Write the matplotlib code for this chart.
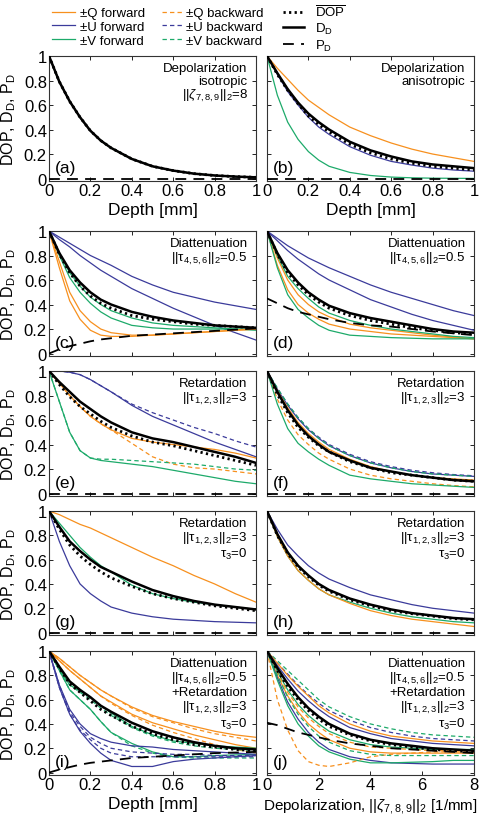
import numpy as np
import matplotlib
matplotlib.use("Agg")
import matplotlib.pyplot as plt
from matplotlib.lines import Line2D

plt.rcParams['font.family'] = ['Liberation Sans', 'DejaVu Sans']
plt.rcParams['mathtext.fontset'] = 'custom'
plt.rcParams['mathtext.rm'] = 'Liberation Sans'
plt.rcParams['mathtext.it'] = 'Liberation Sans:italic'
plt.rcParams['mathtext.bf'] = 'Liberation Sans:bold'

# ---------------- data ----------------
X = [0, 0.05, 0.1, 0.15, 0.2, 0.25, 0.3, 0.4, 0.5, 0.6, 0.7, 0.8, 0.9, 1.0]
XJ = [0, 0.4, 0.8, 1.2, 1.6, 2.0, 2.4, 3.2, 4.0, 4.8, 5.6, 6.4, 7.2, 8.0]
ZERO = [0] * 14

# (a) isotropic depolarization
A_DD = [1, .79, .63, .50, .39, .31, .25, .16, .10, .065, .04, .025, .016, .01]
A_DOP = [1, .79, .63, .50, .39, .31, .25, .16, .10, .065, .04, .025, .016, .01]

# (b) anisotropic depolarization
B_Q = [1, .9, .81, .72, .64, .58, .52, .42, .35, .29, .24, .2, .17, .14]
B_U = [1, .85, .71, .6, .5, .42, .36, .26, .19, .14, .11, .085, .07, .06]
B_V = [1, .68, .46, .32, .22, .15, .10, .05, .025, .012, .006, .003, .002, .001]
B_DD = [1, .86, .73, .62, .53, .46, .40, .30, .23, .18, .14, .115, .1, .085]
B_DOP = [1, .85, .72, .61, .51, .44, .38, .28, .21, .16, .125, .1, .085, .07]

# (c) diattenuation
C_Q1 = [1, .75, .5, .35, .26, .2, .17, .15, .15, .16, .17, .18, .19, .2]
C_Q2 = [1, .7, .43, .28, .19, .15, .14, .14, .15, .16, .17, .18, .19, .2]
C_U1 = [1, .95, .9, .85, .8, .76, .72, .63, .56, .5, .46, .42, .39, .36]
C_U2 = [1, .93, .87, .8, .74, .68, .63, .53, .45, .37, .3, .23, .17, .11]
C_V1 = [1, .82, .66, .55, .46, .4, .35, .29, .25, .23, .22, .21, .2, .2]
C_V2 = [1, .8, .62, .5, .41, .34, .29, .23, .21, .2, .2, .2, .2, .19]
C_DD = [1, .82, .68, .58, .5, .44, .4, .34, .3, .27, .25, .23, .22, .21]
C_DOP = [1, .81, .66, .55, .47, .41, .37, .31, .28, .26, .24, .23, .22, .21]
C_PD = [0, .035, .06, .08, .1, .115, .125, .145, .155, .165, .175, .185, .195, .205]

# (d) diattenuation, anisotropic
D_U1 = [1, .94, .88, .83, .78, .74, .7, .63, .56, .5, .45, .4, .35, .31]
D_U2 = [1, .92, .84, .77, .71, .65, .6, .52, .44, .38, .32, .27, .23, .19]
D_Q1 = [1, .78, .6, .48, .4, .34, .3, .24, .21, .19, .17, .15, .135, .12]
D_Q2 = [1, .72, .52, .4, .33, .28, .24, .2, .18, .16, .15, .14, .13, .12]
D_V1 = [1, .8, .63, .53, .45, .38, .33, .27, .23, .2, .18, .16, .14, .13]
D_V2 = [1, .7, .48, .36, .29, .23, .19, .15, .14, .13, .125, .12, .12, .12]
D_DD = [1, .82, .68, .58, .5, .44, .39, .33, .29, .26, .23, .2, .18, .17]
D_DOP = [1, .81, .66, .56, .48, .42, .37, .31, .27, .24, .21, .19, .17, .16]
D_PD = [.45, .41, .37, .34, .32, .3, .28, .25, .23, .22, .2, .18, .165, .15]

# (e) retardation
E_Qf = [1, .9, .8, .71, .63, .57, .52, .45, .42, .40, .38, .36, .33, .29]
E_Qb = [1, .9, .8, .71, .63, .57, .52, .41, .30, .24, .21, .2, .18, .16]
E_Uf = [1, 1, .99, .97, .93, .88, .83, .72, .63, .56, .49, .42, .36, .30]
E_Ub = [1, 1, .99, .97, .93, .88, .83, .73, .66, .6, .54, .49, .43, .38]
E_Vf = [1, .75, .5, .35, .29, .27, .26, .24, .22, .19, .16, .13, .1, .08]
E_Vb = [1, .75, .5, .35, .29, .28, .28, .27, .26, .25, .24, .22, .2, .19]
E_DD = [1, .91, .83, .75, .69, .63, .58, .5, .45, .42, .38, .34, .3, .25]
E_DOP = [1, .89, .79, .71, .65, .59, .54, .47, .42, .39, .35, .31, .27, .23]

# (f) retardation, anisotropic
F_Uf = [1, .85, .72, .61, .52, .45, .39, .31, .25, .21, .18, .16, .15, .14]
F_Ub = [1, .86, .73, .62, .53, .46, .4, .32, .26, .22, .19, .17, .155, .145]
F_Vb = [1, .86, .73, .62, .53, .45, .39, .31, .25, .21, .18, .16, .15, .14]
F_Qf = [1, .84, .7, .58, .49, .42, .36, .28, .22, .18, .15, .13, .12, .11]
F_Qb = [1, .77, .6, .48, .4, .33, .28, .2, .15, .12, .1, .08, .065, .055]
F_Vf = [1, .73, .53, .41, .34, .28, .23, .15, .12, .1, .08, .07, .06, .05]
F_DD = [1, .83, .68, .56, .47, .4, .34, .27, .21, .18, .15, .13, .11, .10]
F_DOP = [1, .81, .66, .54, .46, .39, .34, .26, .21, .17, .15, .13, .11, .10]

# (g) retardation, tau3 = 0
G_Q = [1, .97, .93, .89, .86, .82, .78, .7, .62, .55, .47, .4, .32, .25]
G_U = [1, .75, .55, .4, .32, .26, .21, .16, .13, .11, .1, .09, .085, .08]
G_V = [1, .9, .8, .7, .62, .55, .5, .39, .32, .28, .25, .23, .21, .19]
G_DD = [1, .87, .75, .67, .6, .54, .5, .42, .35, .3, .26, .23, .21, .19]
G_DOP = [1, .85, .72, .63, .56, .5, .45, .38, .32, .28, .25, .22, .2, .18]

# (h) retardation, tau3 = 0, anisotropic
H_U = [1, .85, .72, .63, .55, .49, .44, .37, .31, .27, .23, .2, .18, .16]
H_V = [1, .79, .63, .51, .43, .36, .31, .25, .2, .16, .13, .11, .09, .08]
H_Q = [1, .79, .63, .51, .43, .36, .31, .24, .18, .14, .11, .09, .07, .05]
H_DD = [1, .81, .66, .55, .47, .4, .35, .28, .23, .19, .16, .14, .12, .11]
H_DOP = [1, .8, .65, .54, .46, .39, .34, .27, .22, .18, .155, .135, .115, .105]

# (i) diattenuation + retardation
I_Q1f = [1, .94, .87, .8, .74, .68, .63, .54, .47, .42, .38, .34, .31, .29]
I_Q1b = [1, .94, .87, .8, .74, .68, .63, .53, .46, .41, .36, .32, .29, .26]
I_Q2f = [1, .92, .84, .77, .7, .63, .58, .48, .41, .36, .31, .27, .23, .2]
I_Q2b = [1, .92, .84, .77, .7, .63, .57, .47, .39, .33, .28, .23, .19, .16]
I_V1f = [1, .85, .72, .67, .62, .55, .49, .38, .31, .26, .24, .22, .21, .2]
I_V1b = [1, .85, .72, .66, .6, .53, .47, .37, .3, .25, .22, .2, .19, .18]
I_V2f = [1, .84, .68, .6, .52, .42, .33, .24, .17, .13, .13, .14, .145, .15]
I_V2b = [1, .84, .68, .6, .52, .42, .33, .22, .16, .13, .12, .12, .12, .12]
I_U1f = [1, .72, .52, .4, .32, .28, .25, .22, .21, .19, .18, .17, .16, .15]
I_U1b = [1, .72, .5, .38, .29, .24, .2, .17, .16, .15, .15, .14, .14, .14]
I_U2f = [1, .7, .48, .34, .24, .16, .1, .05, .05, .09, .11, .12, .13, .14]
I_U2b = [1, .7, .48, .35, .27, .2, .16, .13, .13, .13, .13, .13, .13, .13]
I_DD = [1, .87, .75, .68, .62, .55, .5, .41, .34, .29, .25, .22, .2, .19]
I_DOP = [1, .86, .73, .66, .59, .52, .47, .38, .32, .27, .23, .21, .19, .18]
I_PD = [0, .025, .045, .065, .08, .09, .1, .12, .13, .14, .15, .16, .165, .17]

# (j) diattenuation + retardation vs depolarization
J_Vb1 = [1, .92, .84, .76, .68, .6, .54, .46, .4, .36, .33, .31, .3, .29]
J_Ub1 = [1, .9, .81, .72, .64, .57, .51, .43, .37, .33, .3, .28, .27, .26]
J_Qf1 = [1, .9, .8, .71, .63, .55, .49, .4, .34, .3, .28, .26, .25, .24]
J_Uf1 = [1, .88, .77, .67, .59, .52, .46, .37, .32, .28, .26, .24, .23, .22]
J_Vf2 = [1, .83, .68, .56, .47, .4, .34, .27, .23, .21, .2, .19, .19, .19]
J_Qb2 = [1, .82, .66, .54, .45, .38, .32, .25, .21, .2, .19, .18, .18, .18]
J_Qf2 = [1, .8, .63, .5, .4, .33, .27, .2, .17, .16, .16, .16, .16, .16]
J_Uf2 = [1, .78, .58, .44, .33, .25, .19, .13, .1, .08, .075, .07, .07, .07]
J_Vf3 = [1, .76, .55, .4, .3, .22, .17, .11, .08, .08, .085, .09, .1, .1]
J_Qb3 = [1, .6, .35, .18, .09, .06, .05, .08, .13, .15, .16, .17, .17, .17]
J_Vb3 = [1, .8, .62, .48, .38, .3, .25, .18, .15, .14, .14, .14, .14, .14]
J_DD = [1, .86, .73, .62, .53, .46, .4, .32, .27, .24, .22, .2, .19, .18]
J_DOP = [1, .84, .71, .6, .51, .44, .38, .31, .26, .23, .21, .19, .18, .17]
J_PD = [.41, .39, .36, .33, .31, .29, .27, .24, .22, .2, .19, .18, .17, .16]

TICKS01 = [0, 0.2, 0.4, 0.6, 0.8, 1]
TICKLABELS01 = ['0', '0.2', '0.4', '0.6', '0.8', '1']
TICKSJ = [0, 2, 4, 6, 8]
TICKLABELSJ = ['0', '2', '4', '6', '8']
PANEL_LABELS = ['(a)', '(b)', '(c)', '(d)', '(e)', '(f)', '(g)', '(h)', '(i)', '(j)']
T456 = '$||\\mathrm{\\tau}_{4,5,6}||_2$=0.5'
T123 = '$||\\mathrm{\\tau}_{1,2,3}||_2$=3'
T3 = '$\\mathrm{\\tau}_3$=0'
ANNOT = [
    'Depolarization\nisotropic\n$||\\zeta_{7,8,9}||_2$=8',
    'Depolarization\nanisotropic',
    'Diattenuation\n' + T456,
    'Diattenuation\n' + T456,
    'Retardation\n' + T123,
    'Retardation\n' + T123,
    'Retardation\n' + T123 + '\n' + T3,
    'Retardation\n' + T123 + '\n' + T3,
    'Diattenuation\n' + T456 + '\n+Retardation\n' + T123 + '\n' + T3,
    'Diattenuation\n' + T456 + '\n+Retardation\n' + T123 + '\n' + T3,
]

# ---------------- style ----------------
ORANGE = '#F7901E'
BLUE = '#3B3B9B'
GREEN = '#1DAA6A'
CLW = 0.9
DASH = (0, (3.5, 2.5))
W, H = 481, 820
fig = plt.figure(figsize=(W / 100, H / 100), dpi=100)

cols_x = [(49, 207), (267, 207)]
rows_y = [(57, 125), (232, 125), (372, 125), (512, 124), (652, 124)]


def make_ax(r, c):
    x0, w = cols_x[c]
    y0, h = rows_y[r]
    return fig.add_axes([x0 / W, 1 - (y0 + h) / H, w / W, h / H])


def fwd(ax, x, y, col):
    ax.plot(x, y, color=col, lw=CLW, zorder=2)


def bwd(ax, x, y, col):
    ax.plot(x, y, color=col, lw=CLW, ls=DASH, zorder=2)


def black(ax, x, dd, dop, pd):
    ax.plot(x, pd, color='black', lw=1.3, ls=(0, (6, 4)), zorder=4)
    ax.plot(x, dd, color='black', lw=1.8, zorder=5)
    ax.plot(x, dop, color='black', lw=2.0, ls=(0, (0.8, 1.2)), zorder=6)


axes = []
for r in range(5):
    for c in range(2):
        axes.append(make_ax(r, c))

# (a)
ax = axes[0]
fwd(ax, X, A_DD, ORANGE); fwd(ax, X, A_DD, BLUE); fwd(ax, X, A_DD, GREEN)
black(ax, X, A_DD, A_DOP, ZERO)
# (b)
ax = axes[1]
fwd(ax, X, B_Q, ORANGE); fwd(ax, X, B_U, BLUE); fwd(ax, X, B_V, GREEN)
black(ax, X, B_DD, B_DOP, ZERO)
# (c)
ax = axes[2]
for y in (C_U1, C_U2):
    fwd(ax, X, y, BLUE)
for y in (C_V1, C_V2):
    fwd(ax, X, y, GREEN)
for y in (C_Q1, C_Q2):
    fwd(ax, X, y, ORANGE)
black(ax, X, C_DD, C_DOP, C_PD)
# (d)
ax = axes[3]
for y in (D_U1, D_U2):
    fwd(ax, X, y, BLUE)
for y in (D_Q1, D_Q2):
    fwd(ax, X, y, ORANGE)
for y in (D_V1, D_V2):
    fwd(ax, X, y, GREEN)
black(ax, X, D_DD, D_DOP, D_PD)
# (e)
ax = axes[4]
fwd(ax, X, E_Uf, BLUE); bwd(ax, X, E_Ub, BLUE)
fwd(ax, X, E_Qf, ORANGE); bwd(ax, X, E_Qb, ORANGE)
fwd(ax, X, E_Vf, GREEN); bwd(ax, X, E_Vb, GREEN)
black(ax, X, E_DD, E_DOP, ZERO)
# (f)
ax = axes[5]
fwd(ax, X, F_Uf, BLUE); bwd(ax, X, F_Ub, BLUE)
fwd(ax, X, F_Qf, ORANGE); bwd(ax, X, F_Qb, ORANGE)
fwd(ax, X, F_Vf, GREEN); bwd(ax, X, F_Vb, GREEN)
black(ax, X, F_DD, F_DOP, ZERO)
# (g)
ax = axes[6]
fwd(ax, X, G_Q, ORANGE); fwd(ax, X, G_U, BLUE); fwd(ax, X, G_V, GREEN)
black(ax, X, G_DD, G_DOP, ZERO)
# (h)
ax = axes[7]
fwd(ax, X, H_U, BLUE); fwd(ax, X, H_V, GREEN); fwd(ax, X, H_Q, ORANGE)
black(ax, X, H_DD, H_DOP, ZERO)
# (i)
ax = axes[8]
fwd(ax, X, I_Q1f, ORANGE); bwd(ax, X, I_Q1b, ORANGE)
fwd(ax, X, I_Q2f, ORANGE); bwd(ax, X, I_Q2b, ORANGE)
fwd(ax, X, I_V1f, GREEN); bwd(ax, X, I_V1b, GREEN)
fwd(ax, X, I_V2f, GREEN); bwd(ax, X, I_V2b, GREEN)
fwd(ax, X, I_U1f, BLUE); bwd(ax, X, I_U1b, BLUE)
fwd(ax, X, I_U2f, BLUE); bwd(ax, X, I_U2b, BLUE)
black(ax, X, I_DD, I_DOP, I_PD)
# (j)
ax = axes[9]
bwd(ax, XJ, J_Vb1, GREEN); bwd(ax, XJ, J_Ub1, BLUE)
fwd(ax, XJ, J_Qf1, ORANGE); fwd(ax, XJ, J_Uf1, BLUE)
fwd(ax, XJ, J_Vf2, GREEN); bwd(ax, XJ, J_Qb2, ORANGE)
fwd(ax, XJ, J_Qf2, ORANGE); fwd(ax, XJ, J_Uf2, BLUE)
fwd(ax, XJ, J_Vf3, GREEN); bwd(ax, XJ, J_Qb3, ORANGE)
bwd(ax, XJ, J_Vb3, GREEN)
black(ax, XJ, J_DD, J_DOP, J_PD)

for k, ax in enumerate(axes):
    r, c = divmod(k, 2)
    if k == 9:
        ax.set_xlim(0, 8)
        ax.set_xticks(TICKSJ)
        ax.set_xticklabels(TICKLABELSJ)
    else:
        ax.set_xlim(0, 1)
        ax.set_xticks(TICKS01)
        ax.set_xticklabels(TICKLABELS01)
    ax.set_ylim(-0.02, 1)
    ax.set_yticks(TICKS01)
    ax.set_yticklabels(TICKLABELS01)
    ax.tick_params(direction='in', top=True, right=True, length=3, width=0.6,
                   labelsize=12, pad=1.5)
    if c == 1:
        ax.tick_params(labelleft=False)
    else:
        ax.set_ylabel('DOP, D$_\\mathrm{D}$, P$_\\mathrm{D}$', fontsize=11.5)
        ax.yaxis.set_label_coords(-0.15, 0.5)
    if r not in (0, 4):
        ax.tick_params(labelbottom=False)
    else:
        if k == 9:
            ax.set_xlabel('Depolarization, $||\\zeta_{7,8,9}||_2$ [1/mm]', fontsize=11, labelpad=3)
        else:
            ax.set_xlabel('Depth [mm]', fontsize=12.5, labelpad=3)
    for s in ax.spines.values():
        s.set_linewidth(0.8)
        s.set_color('#333333')
    ax.text(0.03, 0.05, PANEL_LABELS[k], transform=ax.transAxes, fontsize=12.5,
            ha='left', va='bottom', zorder=10)
    ax.text(0.96, 0.95, ANNOT[k], transform=ax.transAxes, fontsize=9.5,
            ha='right', va='top', linespacing=1.05, zorder=10)

# legend: three single-column legends
h_fwd = [Line2D([], [], color=col, lw=CLW) for col in (ORANGE, BLUE, GREEN)]
h_bwd = [Line2D([], [], color=col, lw=CLW, ls=DASH) for col in (ORANGE, BLUE, GREEN)]
h_blk = [Line2D([], [], color='black', lw=2.0, ls=(0, (0.8, 1.2))),
         Line2D([], [], color='black', lw=1.8),
         Line2D([], [], color='black', lw=1.3, ls=(0, (6, 4)))]
lab_fwd = ['±Q forward', '±U forward', '±V forward']
lab_bwd = ['±Q backward', '±U backward', '±V backward']
lab_blk = ['$\\overline{\\mathrm{DOP}}$', 'D$_\\mathrm{D}$', 'P$_\\mathrm{D}$']
common = dict(loc='upper left', frameon=False, fontsize=9.5,
              labelspacing=0.12, borderpad=0, borderaxespad=0)
fig.legend(h_fwd, lab_fwd, bbox_to_anchor=(52 / W, 1 - 8 / H), handlelength=1.75,
           handletextpad=0.35, **common)
fig.legend(h_bwd, lab_bwd, bbox_to_anchor=(162 / W, 1 - 8 / H), handlelength=1.5,
           handletextpad=0.35, **common)
fig.legend(h_blk, lab_blk, bbox_to_anchor=(283 / W, 1 - 5 / H), handlelength=1.6,
           handletextpad=0.8, **common)

fig.savefig('out.png', dpi=100)
